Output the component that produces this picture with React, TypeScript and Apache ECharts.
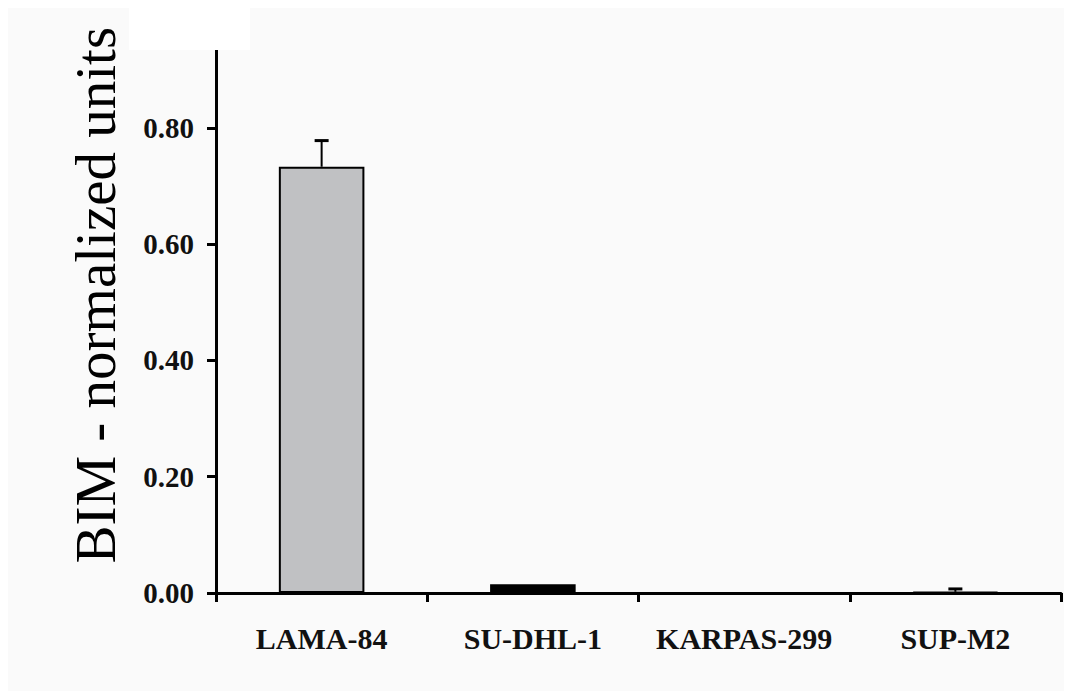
import React, { useEffect, useRef } from "react";
import * as echarts from "echarts";

const categories = ["LAMA-84", "SU-DHL-1", "KARPAS-299", "SUP-M2"];
const values = [0.733, 0.015, 0, 0.002];
const errors = [0.045, 0, 0, 0.005];
const barColors = ["#c0c1c3", "#000000", "#000000", "#000000"];
const yAxisName = "BIM - normalized units";
const yMin = 0;
const yMax = 1.0;
const yInterval = 0.2;

const SERIF = '"Liberation Serif", "Times New Roman", serif';

export default function App() {
  const ref = useRef<HTMLDivElement>(null);
  useEffect(() => {
    if (!ref.current) return;
    const chart = echarts.init(ref.current, null, { renderer: "svg" });
    const option: any = {
      animation: false,
      backgroundColor: "#fafafa",
      grid: {
        left: 208,
        right: 11,
        top: 3.5,
        bottom: 98,
        containLabel: false,
        outerBoundsMode: "none",
      },
      xAxis: {
        type: "category",
        data: categories,
        boundaryGap: true,
        axisLine: { lineStyle: { color: "#000", width: 3 } },
        axisTick: { show: true, length: 9, lineStyle: { color: "#000", width: 3 } },
        axisLabel: {
          interval: 0,
          color: "#111",
          fontFamily: SERIF,
          fontWeight: "bold",
          fontSize: 30,
          margin: 30,
        },
      },
      yAxis: {
        type: "value",
        min: yMin,
        max: yMax,
        interval: yInterval,
        name: yAxisName,
        nameLocation: "middle",
        nameGap: 92,
        nameTextStyle: {
          color: "#000",
          fontFamily: SERIF,
          fontSize: 57,
          padding: [0, 0, 0, 14],
        },
        splitLine: { show: false },
        axisLine: { show: true, lineStyle: { color: "#000", width: 3 } },
        axisTick: { show: true, length: 9, lineStyle: { color: "#000", width: 3 } },
        axisLabel: {
          showMaxLabel: false,
          color: "#111",
          fontFamily: SERIF,
          fontWeight: "bold",
          fontSize: 29,
          margin: 22,
          formatter: (v: number) => (v >= yMax ? "" : v.toFixed(2)),
        },
      },
      series: [
        {
          type: "bar",
          barWidth: "40.5%",
          data: values.map((v, i) => ({
            value: v,
            itemStyle: { color: barColors[i], borderColor: "#000", borderWidth: 2 },
          })),
        },
        {
          type: "custom",
          data: values.map((v, i) => [i, v, errors[i]]),
          z: 5,
          renderItem: (params: any, api: any) => {
            const x = api.value(0);
            const v = api.value(1);
            const e = api.value(2);
            if (!e) return null;
            const base = api.coord([x, v]);
            const top = api.coord([x, v + e]);
            return {
              type: "group",
              children: [
                {
                  type: "line",
                  shape: { x1: base[0], y1: base[1], x2: top[0], y2: top[1] },
                  style: { stroke: "#000", lineWidth: 2 },
                },
                {
                  type: "line",
                  shape: { x1: top[0] - 7, y1: top[1], x2: top[0] + 7, y2: top[1] },
                  style: { stroke: "#000", lineWidth: 3 },
                },
              ],
            };
          },
        },
      ],
      graphic: [
        {
          type: "rect",
          left: 121,
          top: 0,
          z: 100,
          shape: { width: 121, height: 42 },
          style: { fill: "#ffffff" },
        },
      ],
    };
    chart.setOption(option);
    return () => chart.dispose();
  }, []);
  return <div ref={ref} style={{ width: 1064, height: 683 }} />;
}
